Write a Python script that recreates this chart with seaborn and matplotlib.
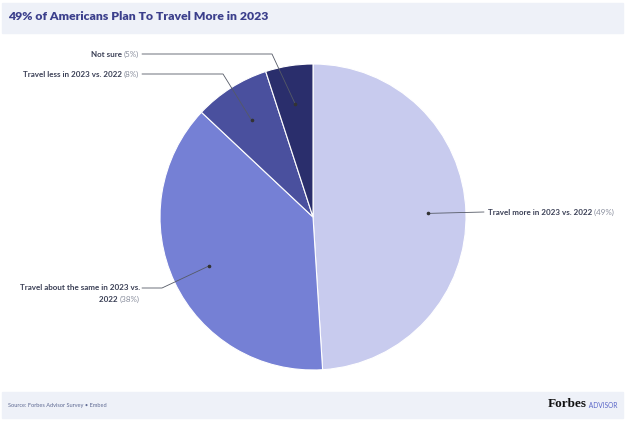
import matplotlib
matplotlib.use("Agg")
import matplotlib.pyplot as plt
import seaborn as sns
import numpy as np
from matplotlib.patches import Rectangle

# data
labels = [
    "Travel more in 2023 vs. 2022",
    "Travel about the same in 2023 vs.\n2022",
    "Travel less in 2023 vs. 2022",
    "Not sure",
]
values = [49, 38, 8, 5]
colors = ["#C8CBEE", "#7580D5", "#4A509E", "#2A2E6C"]

title = "49% of Americans Plan To Travel More in 2023"
source = "Source: Forbes Advisor Survey \u2022 Embed"

sns.set_theme(style="white")
plt.rcParams["font.family"] = ["Lato", "DejaVu Sans"]

W, H = 628, 423
fig = plt.figure(figsize=(W / 100, H / 100), dpi=100)
ax = fig.add_axes([0, 0, 1, 1])

# header / footer bands
ax.add_patch(Rectangle((2, H - 33), 621, 30, color="#EEF1F8", zorder=0))
ax.add_patch(Rectangle((2, H - 418), 621, 26, color="#EEF1F8", zorder=0))

ax.text(8, H - 16, title, fontsize=8.8, fontweight="heavy", color="#3B3F8C",
        ha="left", va="center")

cx, cy, R = 313, H - 217, 153
wedges, _ = ax.pie(values, colors=colors, startangle=90, counterclock=False,
                   center=(cx, cy), radius=R, frame=True,
                   wedgeprops=dict(edgecolor="white", linewidth=0.8))
ax.set_xlim(0, W)
ax.set_ylim(0, H)
ax.set_aspect("equal")
ax.axis("off")

txt_col = "#3A3F55"
pct_col = "#8A8F9E"
lcol = "#555A66"
fs = 5.8


def dot_at(w):
    mid = np.deg2rad((w.theta1 + w.theta2) / 2)
    return cx + 0.75 * R * np.cos(mid), cy + 0.75 * R * np.sin(mid)


# label layout: (text anchor y, elbow x) in screen coords
layout = {
    0: dict(y=212),
    1: dict(y=288, ex=162),
    2: dict(y=74, ex=223),
    3: dict(y=54, ex=272),
}

for i, w in enumerate(wedges):
    dx, dy = dot_at(w)
    ax.plot([dx], [dy], "o", ms=1.6, color="#333333", zorder=5)
    ly = H - layout[i]["y"]
    pct = f"({values[i]}%)"
    if i == 0:
        ax.plot([dx, 484], [dy, ly], color=lcol, lw=0.6, zorder=4)
        t = ax.text(488, ly, labels[i], fontsize=fs, fontweight="bold",
                    color=txt_col, ha="left", va="center")
        ax.annotate(" " + pct, xy=(1, 0.5), xycoords=t, fontsize=fs,
                    color=pct_col, ha="left", va="center")
    else:
        ex = layout[i]["ex"]
        ax.plot([142, ex, dx], [ly, ly, dy], color=lcol, lw=0.6, zorder=4)
        if "\n" in labels[i]:
            first, second = labels[i].split("\n")
            ax.text(140, ly, first, fontsize=fs, fontweight="bold",
                    color=txt_col, ha="right", va="center")
            p = ax.text(140, ly - 11, pct, fontsize=fs, color=pct_col,
                        ha="right", va="center")
            ax.annotate(second + " ", xy=(0, 0.5), xycoords=p, fontsize=fs,
                        fontweight="bold", color=txt_col, ha="right", va="center")
        else:
            p = ax.text(139, ly, pct, fontsize=fs, color=pct_col,
                        ha="right", va="center")
            ax.annotate(labels[i] + " ", xy=(0, 0.5), xycoords=p, fontsize=fs,
                        fontweight="bold", color=txt_col, ha="right", va="center")

# footer
ax.text(8, H - 405, source, fontsize=4.1, color="#5F6A93", ha="left", va="center")
f = ax.text(548, H - 404, "Forbes", fontsize=9.5, fontweight="bold",
            family="Liberation Serif", color="#111111", ha="left", va="center")
ax.annotate(" ADVISOR", xy=(1, 0.4), xycoords=f, fontsize=4.8, color="#5A66C8",
            ha="left", va="center")

fig.savefig("out.png", dpi=100)
